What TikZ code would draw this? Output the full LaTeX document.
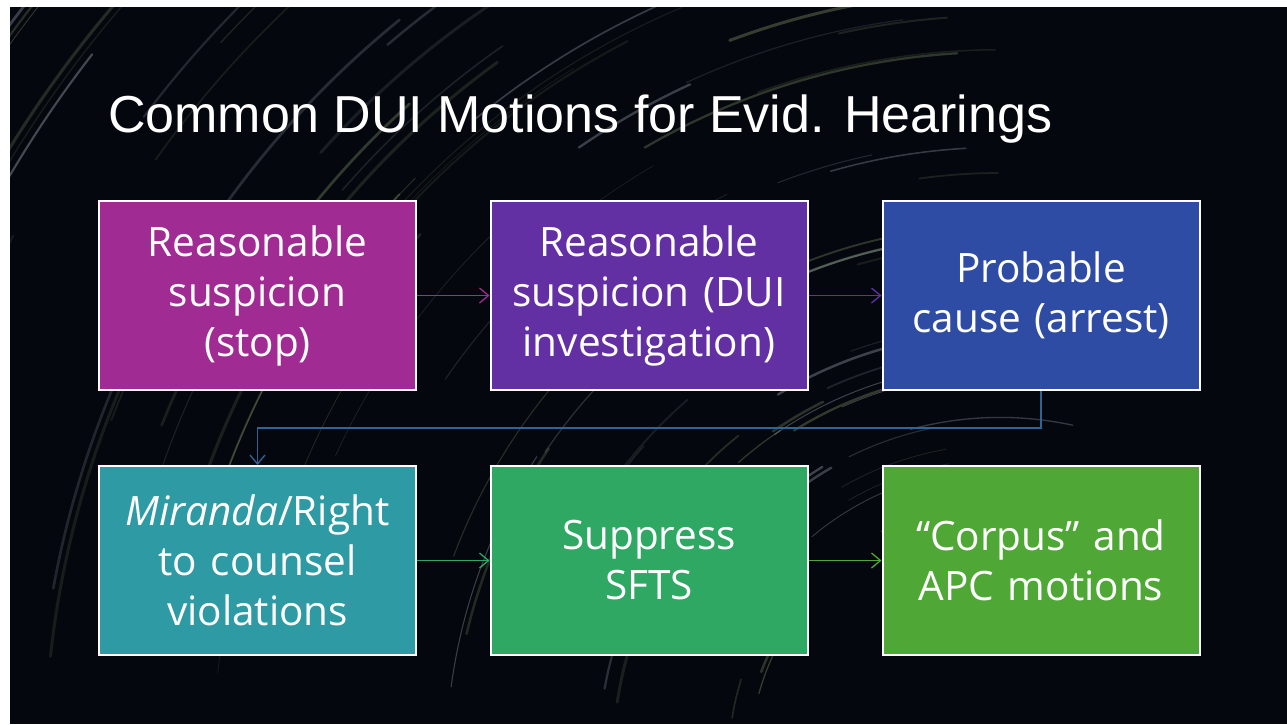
\documentclass[tikz,border=0pt]{standalone}
\usepackage{fontspec}
\setmainfont{Open Sans}
\newfontfamily\titlefont{Liberation Sans}
\usetikzlibrary{arrows.meta}
\definecolor{bgdark}{HTML}{05070E}
\definecolor{cA}{HTML}{A02B93}
\definecolor{cB}{HTML}{6230A2}
\definecolor{cC}{HTML}{2E4CA4}
\definecolor{cD}{HTML}{2E9AA4}
\definecolor{cE}{HTML}{2EA862}
\definecolor{cF}{HTML}{4FA835}
\definecolor{cLink}{HTML}{2E6496}
\definecolor{streakG}{HTML}{8FA870}
\definecolor{streakW}{HTML}{B8C4D0}
\tikzset{
  x=1pt,y=-1pt,
  card/.style={draw=white,line width=2pt,minimum width=317pt,minimum height=189pt,
    text width=316pt,align=center,text=white,font=\fontsize{40.5}{50}\selectfont,inner sep=0pt},
  link/.style={line width=1.3pt,-{Straight Barb[length=9pt,width=15pt,line width=1.3pt]}},
}
\begin{document}
\begin{tikzpicture}
\useasboundingbox (0,0) rectangle (1287,724);
\fill[white] (0,0) rectangle (1287,724);
\fill[bgdark] (10,7) rectangle (1287,724);
\begin{scope}
\clip (10,7) rectangle (1287,724);
\pgfmathsetseed{7}
\foreach \i in {1,...,110}{
  \pgfmathsetmacro{\r}{250+rnd*1100}
  \pgfmathsetmacro{\a}{185+rnd*80}
  \pgfmathsetmacro{\b}{\a+6+rnd*22}
  \pgfmathsetmacro{\op}{0.10+rnd*0.25}
  \pgfmathsetmacro{\lw}{0.6+rnd*2.6}
  \pgfmathtruncatemacro{\c}{rnd*2}
  \ifnum\c=0
    \draw[streakG,opacity=\op,line width=\lw,line cap=round] (1000,760) ++(\a:\r) arc[start angle=\a,end angle=\b,radius=\r];
  \else
    \draw[streakW,opacity=\op,line width=\lw,line cap=round] (1000,760) ++(\a:\r) arc[start angle=\a,end angle=\b,radius=\r];
  \fi
}
\end{scope}
\node[anchor=base west,text=white,inner sep=0pt,font=\titlefont\fontsize{52}{60}\selectfont] (title) at (108,132) {Common DUI Motions for Evid. Hearings};
\node[card,fill=cA] (a) at (257.5,295.5) {Reasonable\\suspicion\\(stop)};
\node[card,fill=cB] (b) at (649,295.5) {Reasonable\\suspicion (DUI\\investigation)};
\node[card,fill=cC] (c) at (1041,295.5) {Probable\\cause (arrest)};
\node[card,fill=cD] (d) at (257.5,560.5) {\textit{Miranda}/Right\\to counsel\\violations};
\node[card,fill=cE] (e) at (649,560.5) {Suppress\\SFTS};
\node[card,fill=cF] (f) at (1041,560.5) {“Corpus” and\\APC motions};
\draw[link,cA] (a.east) -- (b.west);
\draw[link,cB] (b.east) -- (c.west);
\draw[link,cLink] (c.south) -- ++(0,37) -| (d.north);
\draw[link,cE] (d.east) -- (e.west);
\draw[link,cF] (e.east) -- (f.west);
\end{tikzpicture}
\end{document}
